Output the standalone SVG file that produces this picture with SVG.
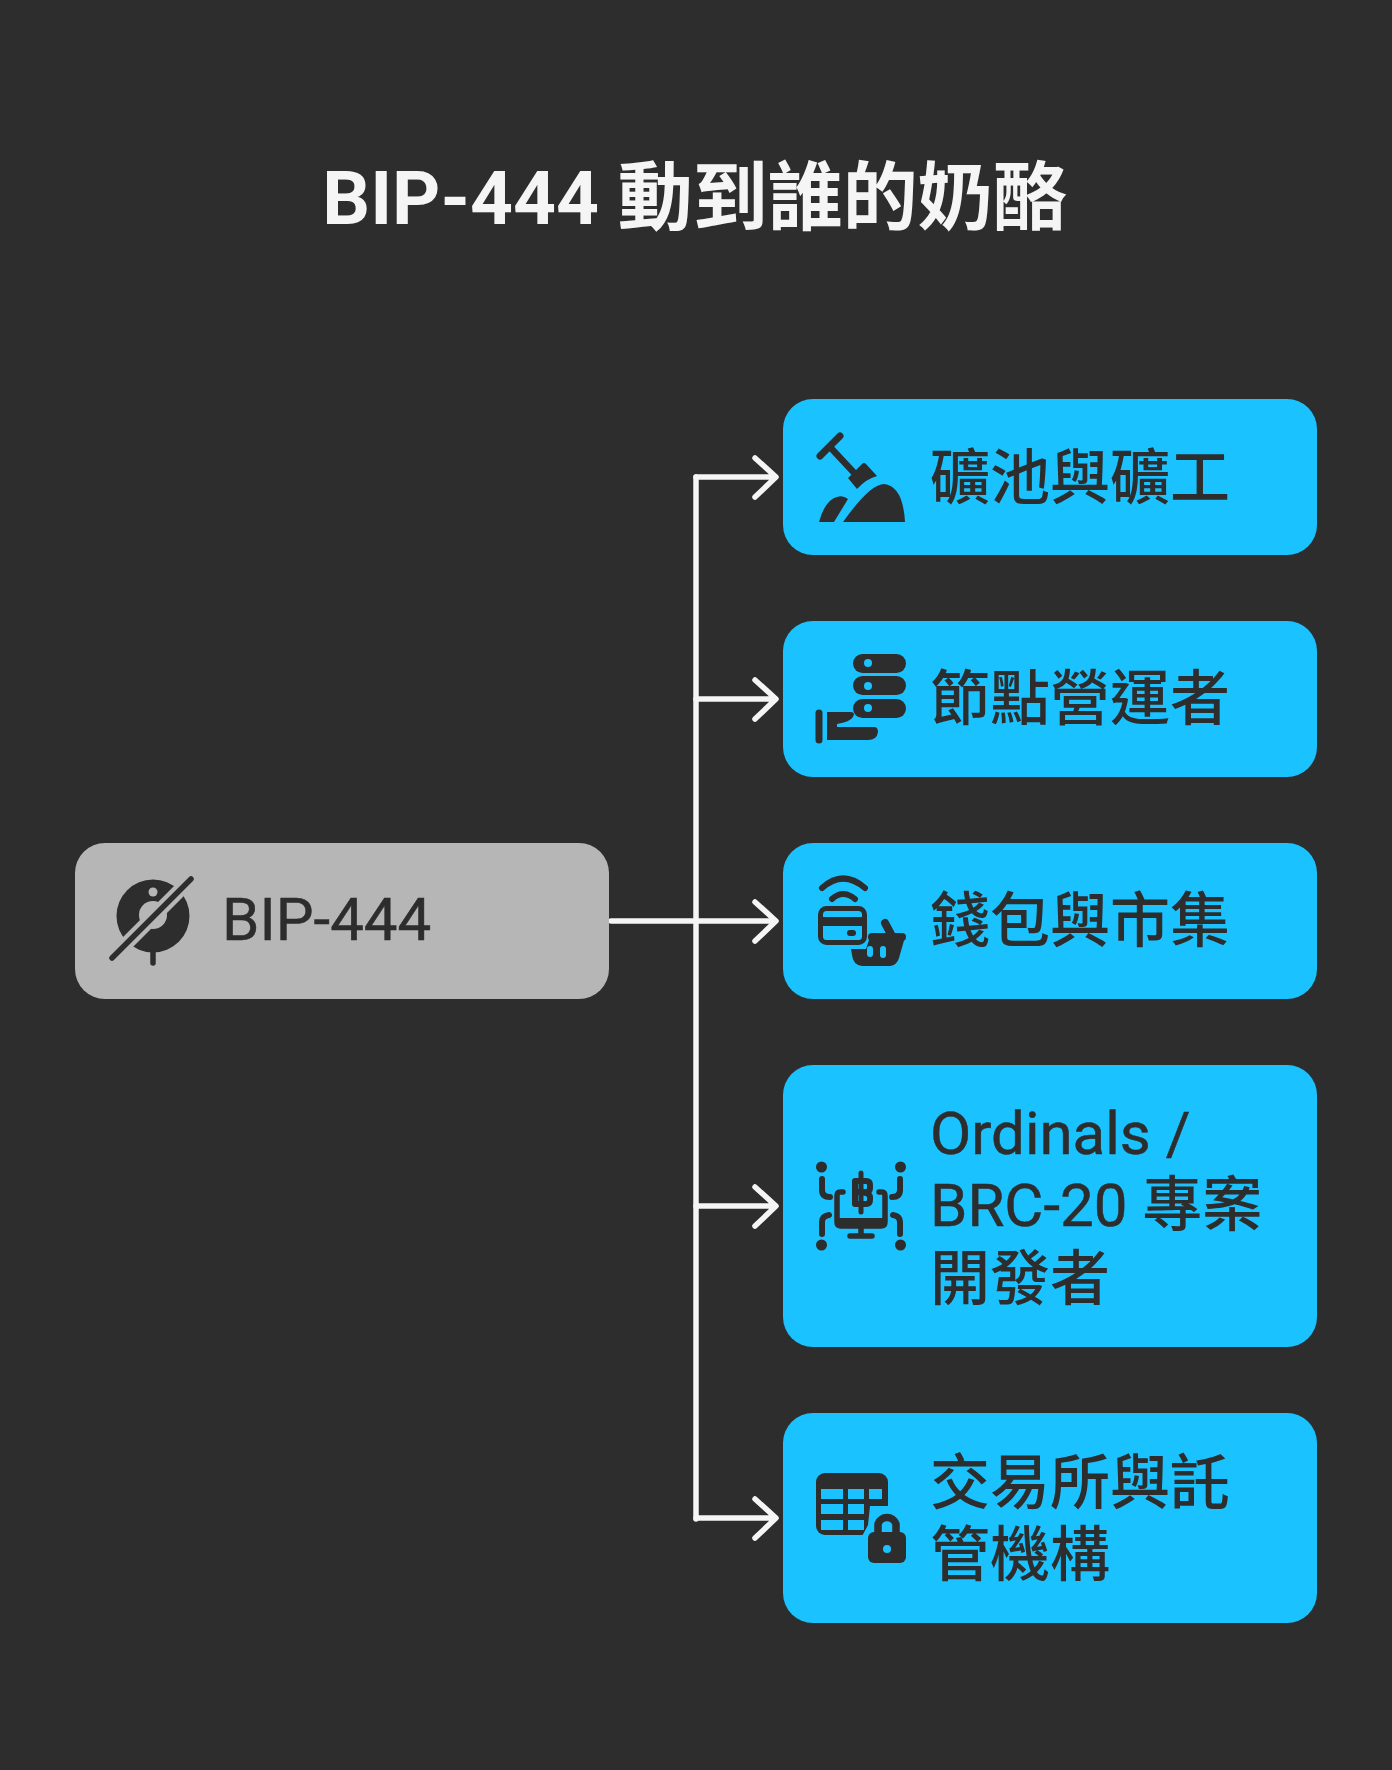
<svg xmlns="http://www.w3.org/2000/svg" width="1392" height="1770" viewBox="0 0 1392 1770">
<style>
text{font-family:"Noto Sans CJK TC",sans-serif}
.l{font-family:Roboto,sans-serif}
.t{font-size:60px;fill:#2d2d2d;font-weight:500}
.t .l{font-weight:400;stroke:#2d2d2d;stroke-width:.5}
.b{fill:#1ac3ff}
.c{fill:none;stroke:#f5f5f5;stroke-width:5.5;stroke-linecap:round;stroke-linejoin:round}
.i{fill:#2d2d2d}
.s{fill:none;stroke:#2d2d2d;stroke-linecap:round;stroke-linejoin:round}
</style>
<rect width="1392" height="1770" fill="#2d2d2d"/>
<text id="title" x="695" y="224" text-anchor="middle" font-size="75" font-weight="700" fill="#f5f5f5"><tspan class="l">BIP-444 </tspan>動到誰的奶酪</text>
<g id="connectors" class="c">
<path d="M696 477V1519"/>
<path d="M611 921H775"/>
<path d="M696 477H775M755 458L776 477L755 497"/>
<path d="M696 699H775M755 680L776 699L755 719"/>
<path d="M755 902L776 921L755 941"/>
<path d="M696 1206H775M755 1187L776 1206L755 1226"/>
<path d="M696 1518H775M755 1499L776 1518L755 1538"/>
</g>
<g id="bip444">
<rect x="75" y="843" width="534" height="156" rx="30" fill="#b6b6b6"/>
<circle cx="153" cy="916" r="36.5" class="i"/>
<circle cx="153" cy="915" r="14" fill="#b6b6b6"/>
<circle cx="153" cy="892" r="4.5" fill="#b6b6b6"/>
<path d="M153 952V963" class="s" stroke-width="5.5"/>
<path d="M112 958L191 879" fill="none" stroke="#b6b6b6" stroke-width="14"/>
<path d="M112 958L191 879" class="s" stroke-width="5.5"/>
<text x="222" y="940" class="t"><tspan class="l">BIP-444</tspan></text>
</g>
<g id="n1">
<rect class="b" x="783" y="399" width="534" height="156" rx="30"/>
<path d="M820 456L840 436" class="s" stroke-width="7"/>
<path d="M830 447L858 477" class="s" stroke-width="6.5"/>
<path d="M848 478L862 464Q864 462 866 464L877 476Q866 479 857 489Z" class="i"/>
<path d="M819 522Q825 500 837 497Q843 495 848 499L834 522Z" class="i"/>
<path d="M843 522Q870 484 884 484Q903 486 905 522Z" class="i"/>
<text x="930" y="499" class="t">礦池與礦工</text>
</g>
<g id="n2">
<rect class="b" x="783" y="621" width="534" height="156" rx="30"/>
<rect class="i" x="853" y="654" width="53" height="19" rx="9.5"/>
<rect class="i" x="853" y="676" width="53" height="19" rx="9.5"/>
<rect class="i" x="853" y="699" width="53" height="19" rx="9.5"/>
<circle cx="868" cy="663" r="4" class="b"/><circle cx="868" cy="686" r="4" class="b"/><circle cx="868" cy="708" r="4" class="b"/>
<path d="M819 713V740" class="s" stroke-width="7"/>
<path d="M827 712H850Q856 712 853 717Q850 722 837 724V727H874Q878 727 878 732Q877 740 868 740H827Z" class="i"/>
<text x="930" y="720" class="t">節點營運者</text>
</g>
<g id="n3">
<rect class="b" x="783" y="843" width="534" height="156" rx="30"/>
<path d="M822 888Q843 869 865 888" class="s" stroke-width="6"/>
<path d="M832 899Q843 889 855 899" class="s" stroke-width="6"/>
<rect x="820.500" y="908.500" width="44" height="34" rx="6" fill="none" stroke="#2d2d2d" stroke-width="5"/>
<rect x="821" y="917" width="44" height="9" class="i"/>
<path d="M850 933H853" class="s" stroke-width="6"/>
<path d="M851 949H866L870 937H905L899 958Q897 965 890 966H862Q853 965 852 955Z" class="i"/>
<path d="M872 937H902" class="s" stroke-width="8"/>
<path d="M885 923L893 938" class="s" stroke-width="8"/>
<rect x="867" y="946" width="6" height="11" rx="3" class="b"/><rect x="880" y="946" width="6" height="12" rx="3" class="b"/>
<text x="930" y="942" class="t">錢包與市集</text>
</g>
<g id="n4">
<rect class="b" x="783" y="1065" width="534" height="282" rx="30"/>
<circle cx="821.500" cy="1167" r="5.500" class="i"/><circle cx="900.500" cy="1167" r="5.500" class="i"/><circle cx="821.500" cy="1245" r="5.500" class="i"/><circle cx="900.500" cy="1245" r="5.500" class="i"/>
<path d="M822 1179V1190Q822 1197 830 1197M900 1179V1190Q900 1197 892 1197M822 1234V1222Q822 1216 829 1215M900 1234V1222Q900 1216 893 1215" class="s" stroke-width="6"/>
<path d="M843 1192H840Q837 1192 837 1196V1222Q837 1226 841 1226H881Q885 1226 885 1222V1196Q885 1192 882 1192H879" class="s" stroke-width="5.5"/>
<rect x="836" y="1218" width="50" height="9" class="i"/>
<path d="M861 1229V1236M850 1236H872" class="s" stroke-width="5.500"/>
<path d="M861 1173V1212" class="s" stroke-width="5"/>
<path d="M855 1181H866Q870 1181 870 1185V1188Q870 1192 866 1192H855Q870 1192 870 1197V1200Q870 1204 866 1204H855Z" fill="none" stroke="#2d2d2d" stroke-width="6" stroke-linejoin="round" stroke-linecap="round"/>
<text class="t" x="930" y="1154"><tspan class="l">Ordinals /</tspan></text>
<text class="t" x="930" y="1226"><tspan class="l">BRC-20 </tspan>專案</text>
<text class="t" x="930" y="1300">開發者</text>
</g>
<g id="n5">
<rect class="b" x="783" y="1413" width="534" height="210" rx="30"/>
<rect class="i" x="816" y="1473" width="72" height="62" rx="9"/>
<g class="b"><rect x="821" y="1489" width="22" height="10"/><rect x="848" y="1489" width="16" height="10"/><rect x="869" y="1489" width="13" height="10"/><rect x="821" y="1504" width="22" height="10"/><rect x="848" y="1504" width="16" height="10"/><rect x="821" y="1520" width="22" height="10"/><rect x="848" y="1520" width="16" height="10"/></g>
<path d="M870 1506H890V1540H860L868 1525Z" class="b"/>
<path d="M878 1538V1524A9.500 9.500 0 0 1 896 1524V1538" fill="none" stroke="#2d2d2d" stroke-width="7.500"/>
<rect class="i" x="868" y="1532" width="38" height="31" rx="6"/>
<circle cx="887" cy="1549" r="4" class="b"/>
<text class="t" x="930" y="1504">交易所與託</text>
<text class="t" x="930" y="1576">管機構</text>
</g>
</svg>
